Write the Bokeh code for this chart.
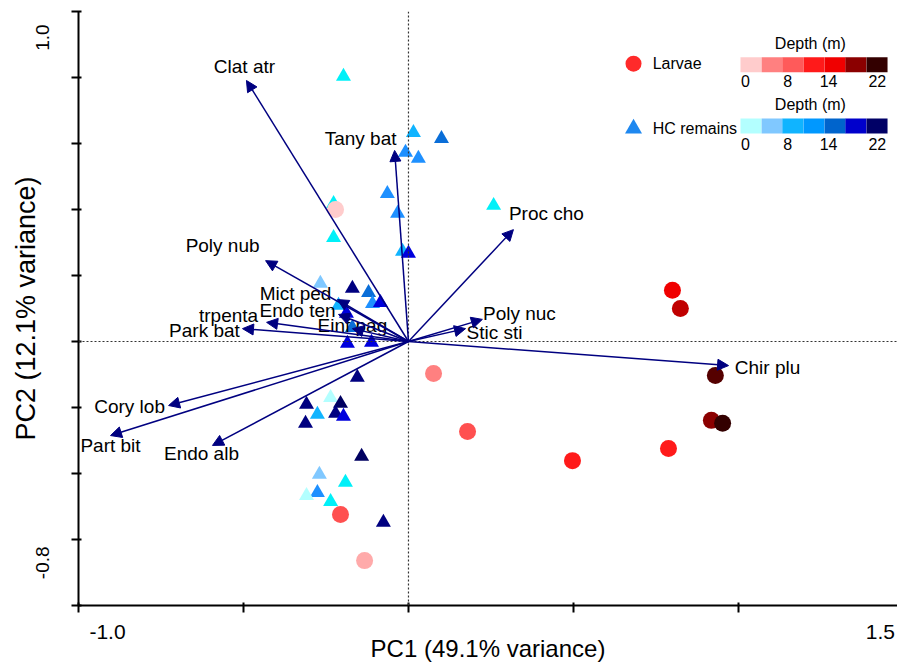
import numpy as np
from bokeh.plotting import figure
from bokeh.models import ColumnDataSource, Arrow, NormalHead, Span, FixedTicker
from bokeh.core.properties import value
from bokeh.embed import file_html
from bokeh.resources import INLINE

# ---------------- data ----------------
species = ["Clat atr", "Tany bat", "Proc cho", "Poly nub", "Mict ped", "Endo ten",
           "trpenta", "Park bat", "Einf pag", "Poly nuc", "Stic sti", "Chir plu",
           "Cory lob", "Part bit", "Endo alb"]
vec_pc1 = [-0.491, -0.042, 0.318, -0.433, -0.215, -0.212, -0.430, -0.503, -0.170,
           0.224, 0.173, 0.970, -0.727, -0.903, -0.594]
vec_pc2 = [0.791, 0.579, 0.339, 0.245, 0.127, 0.082, 0.058, 0.039, 0.039,
           0.067, 0.039, -0.073, -0.194, -0.285, -0.315]

larv_pc1 = [-0.221, 0.800, 0.824, 0.076, 0.930, 0.179, 0.918, 0.952, 0.788, 0.497, -0.206, -0.133]
larv_pc2 = [0.400, 0.155, 0.100, -0.097, -0.103, -0.273, -0.239, -0.248, -0.324, -0.361, -0.524, -0.664]
larv_depth_class = [0, 5, 6, 2, 8, 3, 7, 9, 4, 4, 3, 1]

hc_pc1 = [-0.197, 0.015, 0.100, -0.009, 0.030, -0.064, -0.227, 0.258, -0.033, -0.227,
          -0.018, 0.000, -0.267, -0.170, -0.121, -0.109, -0.085, -0.212, -0.188, -0.170,
          -0.185, -0.112, -0.155, -0.309, -0.236, -0.206, -0.221, -0.197, -0.276, -0.312,
          -0.142, -0.270, -0.191, -0.276, -0.309, -0.236, -0.076]
hc_pc2 = [0.803, 0.633, 0.615, 0.573, 0.555, 0.448, 0.418, 0.412, 0.388, 0.315,
          0.273, 0.267, 0.176, 0.161, 0.148, 0.115, 0.118, 0.109, 0.085, 0.042,
          -0.006, -0.003, -0.109, -0.191, -0.170, -0.188, -0.218, -0.227, -0.221, -0.248,
          -0.348, -0.403, -0.427, -0.458, -0.467, -0.485, -0.548]
hc_depth_class = [1, 3, 5, 4, 4, 4, 1, 1, 4, 1,
                  3, 6, 2, 7, 5, 4, 6, 3, 6, 5,
                  6, 6, 7, 7, 0, 8, 7, 6, 3, 7,
                  8, 2, 1, 4, 0, 1, 7]

x_ticks = [-1.0, -0.5, 0.0, 0.5, 1.0, 1.5]
y_ticks = [-0.8, -0.6, -0.4, -0.2, 0.0, 0.2, 0.4, 0.6, 0.8, 1.0]
x_end_labels = ["-1.0", "1.5"]
y_end_labels = ["1.0", "-0.8"]

depth_ticks = ["0", "8", "14", "22"]
legend_reds = ["#FFCCCC", "#FF8080", "#FF5A5A", "#FF1A1A", "#F00000", "#8B0000", "#330000"]
legend_blues = ["#B3FFFF", "#80C8FF", "#10B4FF", "#0098FF", "#0064CC", "#0000CC", "#000066"]

# ---------------- styling ----------------
red_shades = ["#FFCCCC", "#FFAAAA", "#FF8080", "#FF5050", "#FF1A1A", "#F00000",
              "#C00000", "#8B0000", "#550000", "#330000"]
blue_shades = ["#B3FFFF", "#00F0F8", "#80C8FF", "#10B4FF", "#1E90FF", "#0A6ED8",
               "#0000DD", "#000080", "#000060"]
# label offsets (px) relative to arrow tips
lab_dx = [-2, -34, 33, -43, -42, -41, -38, -38, 0, 37, 29, 39, -39, 0, -11]
lab_dy = [-14, -12, -16, -15, -6, -4, -7, 2, -3, -6, 4, 2, 1, 10, 8]

FONT = "Liberation Sans"
NAVY = "#000080"
X0, X1 = -1.0, 1.482
Y0, Y1 = -0.8, 1.0
FL, FT, FW, FH = 78, 11, 819, 594


def dx(px):
    return round(X0 + (px - FL) * (X1 - X0) / FW, 3)


def dy(py):
    return round(Y1 - (py - FT) * (Y1 - Y0) / FH, 3)


p = figure(width=897, height=665, x_range=(X0, X1), y_range=(Y0, Y1),
           output_backend="svg", toolbar_location=None,
           min_border_left=FL, min_border_right=0, min_border_top=FT, min_border_bottom=60)
p.outline_line_color = None
p.xgrid.visible = False
p.ygrid.visible = False
p.background_fill_color = "white"
p.border_fill_color = "white"

# end labels sit slightly inside the axis ends (as in the original figure);
# the regular tick marks are drawn as minor ticks without labels
x_lab_pos = [dx(107), dx(880)]
y_lab_pos = [dy(24), dy(546)]
p.xaxis.ticker = FixedTicker(ticks=x_lab_pos, minor_ticks=x_ticks)
p.yaxis.ticker = FixedTicker(ticks=y_lab_pos, minor_ticks=y_ticks)
p.xaxis.major_label_overrides = dict(zip(x_lab_pos, x_end_labels))
p.yaxis.major_label_overrides = dict(zip(y_lab_pos, y_end_labels))
p.yaxis.major_label_orientation = np.pi / 2
for ax in (p.xaxis, p.yaxis):
    ax.axis_line_width = 2
    ax.axis_line_color = "black"
    ax.major_tick_line_color = None
    ax.major_tick_in = 0
    ax.major_tick_out = 0
    ax.minor_tick_line_color = "black"
    ax.minor_tick_line_width = 2
    ax.minor_tick_in = 3
    ax.minor_tick_out = 7
    ax.major_label_text_font = FONT
    ax.major_label_text_color = "black"
    ax.axis_label_text_font = FONT
    ax.axis_label_text_font_style = "normal"
    ax.axis_label_text_color = "black"
p.xaxis.major_label_text_font_size = "21px"
p.yaxis.major_label_text_font_size = "19px"
p.xaxis.major_label_standoff = 12
p.yaxis.major_label_standoff = 29
p.xaxis.axis_label = "PC1 (49.1% variance)"
p.yaxis.axis_label = "PC2 (12.1% variance)"
p.xaxis.axis_label_text_font_size = "24px"
p.yaxis.axis_label_text_font_size = "27px"
p.xaxis.axis_label_standoff = -7
p.yaxis.axis_label_standoff = -14

# zero lines
p.add_layout(Span(location=0, dimension="height", line_color="#333333",
                  line_dash="2 2", line_width=1.2))
p.add_layout(Span(location=0, dimension="width", line_color="#333333",
                  line_dash="2 2", line_width=1.2))

# points
p.scatter(hc_pc1, hc_pc2, marker="triangle", size=15,
          fill_color=[blue_shades[c] for c in hc_depth_class], line_color=None)
p.scatter(larv_pc1, larv_pc2, marker="circle", size=17,
          fill_color=[red_shades[c] for c in larv_depth_class], line_color=None)

# species arrows
n = len(species)
src = ColumnDataSource(dict(x0=[0.0] * n, y0=[0.0] * n, x1=vec_pc1, y1=vec_pc2))
p.add_layout(Arrow(end=NormalHead(size=11, fill_color=NAVY, line_color=NAVY, line_width=1),
                   x_start="x0", y_start="y0", x_end="x1", y_end="y1", source=src,
                   line_color=NAVY, line_width=1.5))
p.text(x=vec_pc1, y=vec_pc2, text=species, x_offset=lab_dx, y_offset=lab_dy,
       text_align="center", text_baseline="middle", text_font=value(FONT),
       text_font_size="19px", text_color="black")

# legend
p.scatter([dx(633)], [dy(63)], marker="circle", size=16, fill_color="#FF2A2A", line_color=None)
p.scatter([dx(633)], [dy(128)], marker="triangle", size=17, fill_color="#1E88F0", line_color=None)
p.text([dx(652), dx(652)], [dy(63), dy(128)], text=["Larvae", "HC remains"],
       text_align="left", text_baseline="middle", text_font=value(FONT),
       text_font_size="16px", text_color="black")
bar_left, bar_w = 740, 147 / 7
for pal, ybar, ytitle, ylab in [(legend_reds, 64, 43, 81), (legend_blues, 125.5, 104, 143)]:
    xs = [dx(bar_left + bar_w * (i + 0.5)) for i in range(7)]
    p.rect(xs, [dy(ybar)] * 7, width=bar_w * (X1 - X0) / FW,
           height=15 * (Y1 - Y0) / FH, fill_color=pal, line_color=None)
    p.text([dx(810)], [dy(ytitle)], text=["Depth (m)"], text_align="center",
           text_baseline="middle", text_font=value(FONT), text_font_size="16px",
           text_color="black")
    p.text([dx(745), dx(787), dx(828), dx(877)], [dy(ylab)] * 4, text=depth_ticks,
           text_align="center", text_baseline="middle", text_font=value(FONT),
           text_font_size="16px", text_color="black")

open("out.html", "w").write(file_html(p, INLINE))
